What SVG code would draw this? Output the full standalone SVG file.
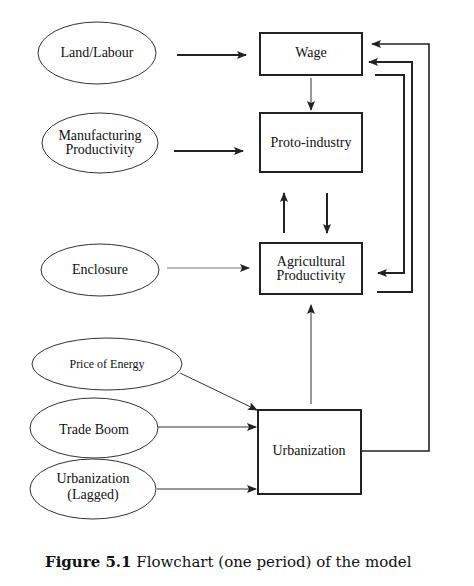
<svg xmlns="http://www.w3.org/2000/svg" width="474" height="586" viewBox="0 0 474 586">
<style>
.box{fill:#fff;stroke:#222;stroke-width:2}
.ell{fill:#fff;stroke:#333;stroke-width:1}
.t{font-family:"Liberation Serif",serif;font-size:14px;fill:#111;text-anchor:middle}
.ts{font-family:"Liberation Serif",serif;font-size:12px;fill:#111;text-anchor:middle}
.thick{fill:none;stroke:#222;stroke-width:2}
.thin{fill:none;stroke:#333;stroke-width:1}
.grey{fill:none;stroke:#777;stroke-width:1.2}
.cap{font-family:"DejaVu Serif","Liberation Serif",serif;font-size:15px;fill:#111}
</style>
<defs>
<marker id="ah" markerUnits="userSpaceOnUse" markerWidth="10" markerHeight="8" refX="9" refY="4" orient="auto">
<path d="M0,0 L10,4 L0,8 L2,4 Z" fill="#222"/>
</marker>
</defs>
<rect width="474" height="586" fill="#fff"/>
<g id="land-labour"><ellipse class="ell" cx="97" cy="53" rx="59" ry="31"/><text class="t" x="97" y="57">Land/Labour</text></g>
<g id="manufacturing"><ellipse class="ell" cx="100" cy="143" rx="58" ry="30"/><text class="t" x="100" y="140">Manufacturing</text><text class="t" x="100" y="154">Productivity</text></g>
<g id="enclosure"><ellipse class="ell" cx="100" cy="270" rx="59" ry="26"/><text class="t" x="100" y="274">Enclosure</text></g>
<g id="price-energy"><ellipse class="ell" cx="107" cy="364" rx="75" ry="26"/><text class="ts" x="107" y="368">Price of Energy</text></g>
<g id="trade-boom"><ellipse class="ell" cx="94" cy="428" rx="64" ry="30"/><text class="t" x="94" y="434">Trade Boom</text></g>
<g id="urban-lagged"><ellipse class="ell" cx="93" cy="489" rx="63" ry="30"/><text class="t" x="93" y="483">Urbanization</text><text class="t" x="93" y="499">(Lagged)</text></g>
<g id="wage"><rect class="box" x="260" y="33" width="102" height="42"/><text class="t" x="311" y="57">Wage</text></g>
<g id="proto"><rect class="box" x="260" y="113" width="102" height="59"/><text class="t" x="311" y="147">Proto-industry</text></g>
<g id="agri"><rect class="box" x="260" y="243" width="102" height="51"/><text class="t" x="311" y="266">Agricultural</text><text class="t" x="311" y="280">Productivity</text></g>
<g id="urban"><rect class="box" x="258" y="410" width="103" height="84"/><text class="t" x="309" y="455">Urbanization</text></g>
<g id="connectors">
<path class="thick" d="M177,55 L246,55" marker-end="url(#ah)"/>
<path class="thick" d="M174,151 L243,151" marker-end="url(#ah)"/>
<path class="grey" d="M167,268 L249,268" marker-end="url(#ah)"/>
<path class="thin" d="M180,373 L257,410" marker-end="url(#ah)"/>
<path class="thin" d="M158,427 L256,427" marker-end="url(#ah)"/>
<path class="thin" d="M157,489 L256,489" marker-end="url(#ah)"/>
<path class="thin" d="M311,78 L311,110" marker-end="url(#ah)"/>
<path class="thick" d="M284,233 L284,193" marker-end="url(#ah)"/>
<path class="thick" d="M327,193 L327,233" marker-end="url(#ah)"/>
<path class="thin" d="M311,404 L311,305" marker-end="url(#ah)"/>
<path class="thick" d="M362,451 L429,451 L429,44 L372,44" marker-end="url(#ah)" style="stroke-width:1.6"/>
<path class="thick" d="M377,292 L412,292 L412,62 L369,62" marker-end="url(#ah)"/>
<path class="thick" d="M375,75 L404,75 L404,273 L378,273" marker-end="url(#ah)"/>
</g>
<text class="cap" x="45" y="567" font-size="14.8"><tspan font-weight="bold">Figure 5.1</tspan> Flowchart (one period) of the model</text>
</svg>
